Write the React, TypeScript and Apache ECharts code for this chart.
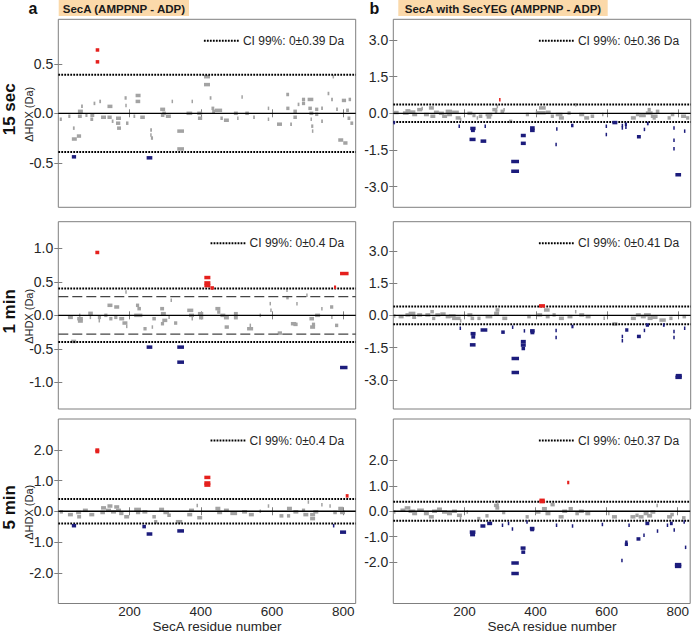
import React, { useEffect, useRef } from "react";
import * as echarts from "echarts";

type Pep = [number, number, number]; // [start residue, end residue, ΔHDX (Da)]

// ---------- labels ----------
const panelLetters = ["a", "b"];
const panelTitles = ["SecA (AMPPNP - ADP)", "SecA with SecYEG (AMPPNP - ADP)"];
const rowLabels = ["15 sec", "1 min", "5 min"];
const xAxisTitle = "SecA residue number";
const yAxisTitle = "ΔHDX (Da)";
const xTickValues = [200, 400, 600, 800];

// ---------- per panel settings (order: a-15s, b-15s, a-1min, b-1min, a-5min, b-5min) ----------
const ciValues = [0.39, 0.36, 0.4, 0.41, 0.4, 0.37];
const yLimits = [0.95, 3.85, 1.4, 4.35, 3.0, 3.63];
const yTickValues: number[][] = [
  [-0.5, 0, 0.5],
  [-3, -1.5, 0, 1.5, 3],
  [-1, -0.5, 0, 0.5, 1],
  [-3, -1.5, 0, 1.5, 3],
  [-2, -1, 0, 1, 2],
  [-2, -1, 0, 1, 2],
];
const dashedLimits: (number | null)[] = [null, null, 0.28, null, null, null];

// ---------- data ----------
const secA_15s: Pep[] = [
  [105, 115, 0.64], [105, 115, 0.52], [38, 50, -0.44], [248, 264, -0.45],
  [4, 10, -0.06], [28, 34, -0.03], [38, 52, -0.26], [52, 64, -0.23], [41, 46, -0.15], [55, 69, 0.02],
  [55, 66, -0.03], [64, 69, 0.07], [76, 82, -0.02], [90, 101, -0.02], [90, 98, -0.06], [99, 104, 0.1],
  [115, 120, 0.12], [120, 134, -0.04], [138, 152, 0.07], [138, 150, -0.04], [150, 155, -0.08],
  [162, 176, -0.05], [162, 174, -0.1], [165, 176, -0.15], [188, 192, 0.08], [186, 192, 0.155],
  [190, 197, -0.1], [211, 216, -0.03], [217, 231, 0.18], [217, 230, 0.12], [230, 243, -0.04],
  [258, 263, -0.17], [258, 262, -0.22], [260, 266, -0.25], [286, 300, 0.04], [288, 298, -0.02],
  [292, 302, 0.0], [302, 316, -0.03], [318, 322, 0.12], [334, 353, -0.18], [334, 353, -0.36],
  [360, 376, 0.0], [374, 378, 0.12], [390, 404, 0.0], [392, 404, -0.05], [409, 426, 0.37],
  [409, 426, 0.29], [425, 430, 0.155], [430, 438, 0.05], [432, 440, 0.02], [440, 460, 0.03],
  [455, 462, -0.05], [465, 479, -0.07], [493, 504, 0.0], [502, 506, -0.05], [514, 518, 0.165],
  [525, 535, 0.0], [547, 552, -0.04], [588, 592, 0.05], [588, 592, -0.06], [614, 628, -0.11],
  [640, 648, 0.19], [640, 649, 0.05], [651, 656, -0.11], [660, 670, 0.02], [660, 670, -0.04],
  [672, 677, 0.09], [684, 693, 0.14], [684, 693, 0.1], [700, 716, 0.14], [702, 712, 0.05],
  [705, 716, 0.0], [708, 712, -0.06], [710, 716, -0.13], [712, 716, -0.18], [721, 730, 0.04],
  [721, 730, -0.01], [738, 743, 0.05], [738, 743, -0.08], [756, 761, 0.2], [766, 771, 0.14],
  [770, 774, 0.37], [780, 785, 0.04], [786, 800, -0.27], [800, 812, -0.3], [796, 808, 0.13],
  [808, 816, 0.03], [812, 820, -0.05], [815, 822, 0.14], [820, 828, -0.1],
];

const secYEG_15s: Pep[] = [
  [297, 300, 0.56], [0, 5, -0.38], [183, 186, -0.53], [216, 231, -0.62], [218, 229, -0.7],
  [214, 231, -1.07], [245, 261, -1.14], [256, 259, -0.53], [331, 353, -1.97], [331, 353, -2.37],
  [358, 372, -0.91], [358, 372, -1.23], [384, 397, -0.6], [384, 397, -0.7], [457, 460, -0.64],
  [455, 458, -1.28], [499, 506, -0.5], [596, 599, -0.53], [596, 599, -0.87], [615, 629, -0.38],
  [641, 644, -0.6], [641, 644, -0.5], [650, 656, -0.45], [651, 655, -0.57], [684, 695, -0.96],
  [703, 706, -0.66], [712, 717, -0.42], [786, 789, -0.6], [786, 789, -1.1], [786, 789, -1.45],
  [792, 808, -2.52], [816, 819, -0.73],
  [2, 15, 0.03], [27, 43, 0.01], [34, 48, 0.1], [43, 62, 0.05], [53, 67, -0.05], [67, 81, 0.15],
  [79, 83, 0.2], [86, 100, -0.05], [100, 114, 0.22], [104, 118, -0.12], [114, 128, 0.04],
  [128, 142, 0.0], [137, 151, -0.12], [147, 165, 0.08], [151, 165, -0.05], [165, 184, 0.04],
  [175, 189, -0.19], [187, 190, -0.26], [208, 222, 0.0], [222, 231, -0.09], [234, 238, -0.19],
  [240, 250, -0.12], [259, 278, -0.05], [262, 275, -0.15], [278, 292, 0.15], [290, 294, 0.28],
  [285, 292, 0.06], [301, 311, 0.08], [309, 313, 0.15], [325, 334, -0.33], [372, 381, -0.05],
  [400, 428, 0.02], [409, 428, 0.22], [428, 442, 0.04], [442, 451, -0.12], [456, 475, -0.05],
  [465, 479, -0.19], [489, 498, 0.01], [510, 514, 0.35], [522, 536, -0.05], [536, 550, -0.19],
  [554, 564, -0.12], [586, 589, -0.05], [667, 681, -0.19], [681, 690, -0.05], [690, 709, -0.09],
  [709, 728, 0.01], [714, 723, 0.15], [723, 742, -0.12], [737, 747, 0.08], [728, 737, -0.19],
  [770, 779, -0.19], [779, 789, -0.05], [808, 822, -0.12], [822, 831, -0.19],
];

const secA_1min: Pep[] = [
  [104, 115, 0.94], [410, 427, 0.565], [410, 427, 0.485], [410, 427, 0.445], [427, 437, 0.41],
  [774, 780, 0.42], [791, 815, 0.625], [248, 264, -0.475], [334, 353, -0.475], [334, 353, -0.7],
  [791, 812, -0.78],
  [36, 50, -0.39], [27, 41, -0.03], [53, 69, -0.05], [55, 69, -0.085], [58, 62, 0.0], [84, 97, 0.03],
  [88, 92, -0.03], [111, 120, -0.03], [113, 117, -0.08], [129, 138, 0.0], [138, 152, 0.15],
  [143, 152, -0.05], [157, 171, 0.125], [157, 166, -0.03], [171, 185, -0.05], [180, 194, -0.115],
  [190, 194, -0.165], [188, 192, 0.35], [218, 227, 0.15], [222, 232, 0.1], [213, 236, 0.0],
  [239, 248, -0.2], [262, 266, -0.175], [264, 274, -0.05], [286, 297, 0.1], [288, 302, 0.025],
  [292, 306, -0.075], [288, 297, -0.125], [309, 313, -0.03], [315, 319, 0.225], [325, 334, -0.115],
  [362, 379, 0.075], [367, 381, 0.0], [374, 378, -0.05], [392, 407, 0.025], [395, 407, -0.035],
  [441, 455, 0.1], [446, 455, 0.05], [455, 469, 0.0], [465, 479, -0.035], [467, 479, -0.175],
  [493, 504, 0.025], [493, 504, -0.035], [530, 547, -0.2], [537, 541, -0.15], [565, 569, 0.0],
  [593, 597, 0.175], [595, 599, 0.075], [616, 628, -0.265], [640, 644, 0.375], [640, 647, 0.265],
  [653, 668, -0.125], [660, 672, -0.135], [668, 672, 0.175], [696, 700, 0.3], [705, 718, -0.05],
  [712, 721, -0.135], [707, 721, -0.175], [721, 735, 0.0], [738, 742, 0.1], [763, 772, 0.125],
  [766, 770, -0.03], [777, 786, -0.15],
];

const secYEG_1min: Pep[] = [
  [409, 426, 0.44], [186, 189, -0.6], [217, 231, -0.85], [219, 230, -1.0], [215, 231, -1.37],
  [245, 264, -0.68], [303, 313, -0.78], [333, 336, -0.55], [332, 353, -2.0], [332, 353, -2.65],
  [358, 372, -1.22], [358, 372, -1.38], [360, 370, -1.54], [366, 370, -0.72], [384, 397, -0.72],
  [385, 396, -0.8], [455, 458, -0.7], [455, 458, -1.03], [500, 506, -0.52], [641, 644, -0.98],
  [641, 644, -1.18], [651, 660, -0.68], [684, 695, -0.98], [703, 706, -0.7], [709, 718, -0.45],
  [757, 762, -0.45], [786, 789, -0.75], [786, 789, -1.03], [793, 810, -2.8], [792, 810, -2.88],
  [816, 819, -0.6],
  [1, 6, -0.03], [15, 29, -0.06], [34, 48, 0.02], [43, 62, 0.09], [53, 64, -0.09], [67, 81, 0.02],
  [90, 104, 0.02], [104, 114, 0.17], [109, 118, -0.14], [118, 132, 0.02], [132, 147, 0.06],
  [147, 161, -0.06], [156, 175, -0.03], [165, 189, -0.14], [187, 190, -0.25], [208, 222, 0.02],
  [217, 227, -0.14], [236, 245, -0.14], [259, 278, -0.06], [283, 297, 0.09], [287, 298, 0.25],
  [306, 320, -0.14], [376, 386, -0.06], [404, 418, 0.02], [423, 439, 0.25], [428, 439, -0.06],
  [447, 456, 0.02], [465, 479, -0.14], [489, 503, -0.06], [510, 514, 0.17], [522, 536, 0.02],
  [540, 554, -0.06], [590, 594, -0.14], [615, 629, -0.4], [667, 681, -0.14], [681, 695, 0.02],
  [695, 709, -0.06], [704, 723, 0.02], [714, 728, -0.14], [723, 742, -0.09], [747, 765, -0.22],
  [775, 784, -0.14], [812, 822, -0.06],
];

const secA_5min: Pep[] = [
  [104, 115, 1.99], [104, 115, 1.94], [410, 427, 1.1], [410, 427, 0.92], [410, 427, 0.85],
  [807, 815, 0.5], [38, 50, -0.47], [236, 246, -0.5], [248, 264, -0.74], [334, 353, -0.64],
  [771, 774, -0.47], [791, 808, -0.68],
  [4, 13, -0.02], [27, 41, -0.11], [50, 64, -0.04], [53, 64, -0.18], [69, 83, 0.03], [87, 101, -0.11],
  [118, 131, -0.04], [120, 134, 0.11], [134, 148, 0.03], [138, 152, 0.17], [148, 162, -0.02],
  [157, 171, 0.14], [162, 176, 0.03], [171, 183, -0.07], [185, 199, -0.18], [213, 232, 0.06],
  [218, 230, -0.04], [236, 250, -0.02], [264, 274, -0.18], [269, 278, -0.34], [283, 297, 0.06],
  [295, 311, -0.04], [306, 316, -0.13], [330, 348, -0.34], [362, 376, -0.11], [367, 381, 0.03],
  [388, 392, 0.19], [390, 404, -0.21], [441, 455, 0.09], [446, 460, -0.04], [465, 479, 0.03],
  [483, 502, -0.07], [516, 530, -0.02], [535, 549, -0.11], [565, 569, 0.0], [588, 592, 0.17],
  [621, 632, -0.15], [642, 656, 0.09], [642, 651, -0.15], [660, 674, -0.02], [684, 693, 0.03],
  [688, 702, -0.11], [700, 704, 0.3], [707, 721, -0.11], [707, 721, -0.24], [716, 730, -0.02],
  [738, 742, 0.21], [761, 765, 0.17], [772, 782, -0.04], [786, 800, 0.09], [791, 805, -0.04],
];

const secYEG_5min: Pep[] = [
  [411, 426, 0.43], [411, 426, 0.38], [489, 495, 1.13], [215, 231, -0.82], [216, 230, -0.92],
  [245, 259, -0.58], [264, 278, -0.48], [305, 308, -0.55], [322, 325, -0.48], [333, 336, -0.7],
  [332, 353, -2.04], [332, 353, -2.45], [358, 372, -1.45], [360, 371, -1.61], [374, 378, -0.42],
  [384, 397, -0.68], [385, 396, -0.72], [457, 460, -0.55], [502, 505, -0.58], [586, 589, -0.52],
  [641, 644, -1.94], [651, 660, -1.3], [652, 659, -1.22], [661, 664, -0.55], [684, 695, -1.09],
  [703, 706, -0.94], [709, 720, -0.48], [741, 744, -0.78], [769, 772, -0.55], [778, 786, -0.48],
  [788, 791, -0.74], [792, 810, -2.17], [792, 810, -2.1], [816, 819, -0.42], [820, 824, -1.42],
  [1, 6, -0.03], [20, 34, 0.04], [32, 48, 0.13], [43, 62, 0.0], [53, 67, -0.09], [67, 86, 0.04],
  [86, 100, -0.09], [100, 114, -0.22], [109, 123, 0.0], [123, 137, 0.08], [137, 151, -0.03],
  [151, 165, -0.09], [165, 179, 0.0], [179, 193, -0.16], [187, 190, -0.29], [206, 210, -0.03],
  [236, 245, -0.29], [259, 268, -0.18], [283, 297, 0.23], [287, 298, 0.13], [291, 295, 0.36],
  [306, 315, -0.05], [372, 381, -0.22], [400, 414, -0.03], [418, 432, 0.1], [428, 442, -0.09],
  [442, 454, 0.26], [465, 479, -0.22], [475, 489, 0.0], [493, 505, 0.1], [512, 522, -0.09],
  [522, 536, 0.0], [540, 554, -0.09], [604, 608, -0.09], [615, 629, -0.22], [667, 681, -0.22],
  [681, 690, -0.16], [690, 704, -0.22], [704, 718, -0.09], [714, 728, -0.18], [723, 737, -0.03],
  [740, 744, 0.23], [770, 784, -0.22], [779, 789, -0.13], [812, 822, -0.26],
];

const panelData: Pep[][] = [secA_15s, secYEG_15s, secA_1min, secYEG_1min, secA_5min, secYEG_5min];

const FONT = "'Liberation Sans', Arial, Helvetica, sans-serif";
const GRAY = "#a3a3a3";
const RED = "#e5201d";
const NAVY = "#1c1c7c";
const FRAME = "#7f7f7f";
const TXT = "#262626";

export default function App() {
  const ref = useRef<HTMLDivElement>(null);

  useEffect(() => {
    const el = ref.current;
    if (!el) return;
    const chart = echarts.init(el, null, { renderer: "svg" });

    const colLeft = [58.3, 393.3];
    const gW = 297.4;
    const rowTop = [19.3, 221.7, 419];
    const rowH = [188, 187.3, 184.5];
    const X_MIN = 0;
    const X_MAX = 835;

    const ctx = document.createElement("canvas").getContext("2d")!;
    ctx.font = `12px ${FONT}`;

    const grids: any[] = [];
    const xAxes: any[] = [];
    const yAxes: any[] = [];
    const series: any[] = [];
    const graphics: any[] = [];

    const renderPep = (params: any, api: any) => {
      const a = api.coord([api.value(0), api.value(2)]);
      const b = api.coord([api.value(1), api.value(2)]);
      const w = Math.max(b[0] - a[0], 1.5);
      return {
        type: "rect",
        shape: { x: a[0], y: a[1] - 1.75, width: w, height: 3.5 },
        style: { fill: api.visual("color") },
      };
    };

    for (let i = 0; i < 6; i++) {
      const row = Math.floor(i / 2);
      const col = i % 2;
      const left = colLeft[col];
      const top = rowTop[row];
      const h = rowH[row];
      const lim = yLimits[i];
      const ci = ciValues[i];

      grids.push({
        left, top, width: gW, height: h, show: true,
        borderColor: FRAME, borderWidth: 1, backgroundColor: "transparent",
      });

      const xBase = {
        gridIndex: i, type: "value", min: X_MIN, max: X_MAX,
        axisLine: { show: false },
        splitLine: { show: false },
        axisTick: { inside: true, length: 4, customValues: xTickValues, lineStyle: { color: FRAME } },
      };
      xAxes.push({
        ...xBase, position: "bottom",
        axisLabel: {
          show: row === 2, customValues: xTickValues, margin: 1,
          fontSize: 13.5, color: TXT, fontFamily: FONT,
        },
      });
      xAxes.push({ ...xBase, position: "top", axisLabel: { show: false } });

      const yBase = {
        gridIndex: i, type: "value", min: -lim, max: lim,
        axisLine: { show: false },
        splitLine: { show: false },
        axisTick: { inside: true, length: 4, customValues: yTickValues[i], lineStyle: { color: FRAME } },
      };
      yAxes.push({
        ...yBase, position: "left",
        axisLabel: {
          customValues: yTickValues[i], margin: 5, fontSize: 14, color: TXT, fontFamily: FONT,
          formatter: (v: number) => v.toFixed(1),
        },
      });
      yAxes.push({ ...yBase, position: "right", axisLabel: { show: false } });

      const xi = 2 * i;
      const yi = 2 * i;
      const data = panelData[i];
      const grayD = data.filter((d) => Math.abs(d[2]) <= ci);
      const redD = data.filter((d) => d[2] > ci);
      const navyD = data.filter((d) => d[2] < -ci);

      const pepSeries = (d: Pep[], color: string, z: number) => ({
        type: "custom", xAxisIndex: xi, yAxisIndex: yi, data: d,
        encode: { x: [0, 1], y: 2 }, renderItem: renderPep,
        itemStyle: { color }, z, silent: true,
      });
      series.push(pepSeries(grayD, GRAY, 2));

      const hLine = (v: number, lineStyle: any, z: number) => ({
        type: "line", xAxisIndex: xi, yAxisIndex: yi,
        data: [[X_MIN, v], [X_MAX, v]], symbol: "none", silent: true,
        lineStyle, z,
      });
      series.push(hLine(0, { color: "#000", width: 1.3 }, 3));
      series.push(hLine(ci, { color: "#000", width: 2, type: [1.8, 1.2] }, 3));
      series.push(hLine(-ci, { color: "#000", width: 2, type: [1.8, 1.2] }, 3));
      const dl = dashedLimits[i];
      if (dl !== null) {
        series.push(hLine(dl, { color: "#444", width: 1.4, type: [10, 4] }, 3));
        series.push(hLine(-dl, { color: "#444", width: 1.4, type: [10, 4] }, 3));
      }
      series.push(pepSeries(redD, RED, 4));
      series.push(pepSeries(navyD, NAVY, 4));

      // CI legend
      const label = `CI 99%: 0±${ci} Da`;
      const tw = ctx.measureText(label).width;
      const tRight = left + gW - 11.5;
      const tStart = tRight - tw;
      const ly = top + 21.5;
      graphics.push({
        type: "line",
        shape: { x1: tStart - 39, y1: ly, x2: tStart - 3, y2: ly },
        style: { stroke: "#000", lineWidth: 2, lineDash: [1.8, 1.2] },
        z: 10,
      });
      graphics.push({
        type: "text", x: tStart, y: ly,
        style: {
          text: label, font: `12px ${FONT}`, fill: TXT,
          textAlign: "left", textVerticalAlign: "middle",
        },
        z: 10,
      });

      // y-axis title for left column
      if (col === 0) {
        graphics.push({
          type: "text", x: 28.5, y: top + h / 2 + 1, rotation: Math.PI / 2,
          style: {
            text: yAxisTitle, font: `11px ${FONT}`, fill: TXT,
            textAlign: "center", textVerticalAlign: "middle",
          },
        });
        graphics.push({
          type: "text", x: 9.5, y: top + h / 2 - 4, rotation: Math.PI / 2,
          style: {
            text: rowLabels[row], font: `bold 17px ${FONT}`, fill: "#111",
            textAlign: "center", textVerticalAlign: "middle",
          },
        });
      }
      if (row === 2) {
        graphics.push({
          type: "text", x: left + gW / 2 + 10, y: 633,
          style: {
            text: xAxisTitle, font: `13.5px ${FONT}`, fill: TXT,
            textAlign: "center", textVerticalAlign: "bottom",
          },
        });
      }
    }

    // Panel letters and titles
    const titleBoxes = [
      { x: 58.7, w: 130.3, letterX: 33 },
      { x: 398.3, w: 209.4, letterX: 374.5 },
    ];
    titleBoxes.forEach((b, k) => {
      graphics.push({
        type: "text", x: b.letterX, y: 8.5,
        style: {
          text: panelLetters[k], font: `bold 16px ${FONT}`, fill: "#111",
          textAlign: "center", textVerticalAlign: "middle",
        },
      });
      graphics.push({
        type: "rect", shape: { x: b.x, y: 0, width: b.w, height: 16 },
        style: { fill: "#fbd9aa" },
      });
      graphics.push({
        type: "text", x: b.x + b.w / 2, y: 8.5,
        style: {
          text: panelTitles[k], font: `bold 11.5px ${FONT}`, fill: "#1a1a1a",
          textAlign: "center", textVerticalAlign: "middle",
        },
        z: 2,
      });
    });

    chart.setOption({
      animation: false,
      backgroundColor: "#fff",
      textStyle: { fontFamily: FONT },
      grid: grids,
      xAxis: xAxes,
      yAxis: yAxes,
      series,
      graphic: graphics,
    });

    return () => chart.dispose();
  }, []);

  return (
    <div
      ref={ref}
      style={{ position: "absolute", left: 0, top: 0, width: 692, height: 633 }}
    />
  );
}
